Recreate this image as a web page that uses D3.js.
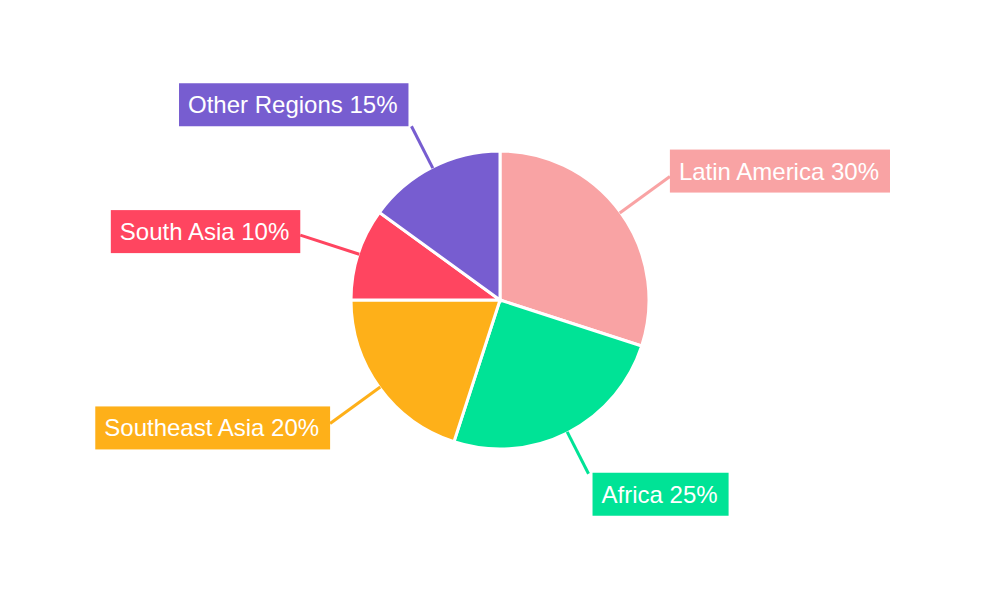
<!DOCTYPE html>
<html>
<head>
<meta charset="utf-8">
<script src="https://cdn.jsdelivr.net/npm/d3@7"></script>
<style>body{margin:0;background:#fff}</style>
</head>
<body>
<div class="canvas"></div>
<script>
var regions = ['Latin America', 'Africa', 'Southeast Asia', 'South Asia', 'Other Regions']
var shares = [30, 25, 20, 10, 15]
var colors = ['#f9a3a4', '#00e396', '#feb019', '#ff4560', '#775dd0']

// label line end radius and box vertical nudge (layout only)
var lineEnd = [210, 195, 210, 210, 195]
var nudge = [-27, -1, -17, -25, -43]

var width = 1000, height = 600
var center = {x: 500, y: 300}
var radius = 149

var svg = d3.select('.canvas').append('svg').attr('width', width).attr('height', height)
var g = svg.append('g').attr('transform', 'translate(' + center.x + ',' + center.y + ')')

var pie = d3.pie().sort(null).value(d => d)
var arcs = pie(shares)
var arc = d3.arc().innerRadius(0).outerRadius(radius)

g.selectAll('path.slice').data(arcs).enter().append('path')
    .attr('d', arc)
    .attr('fill', (d, i) => colors[i])
    .attr('stroke', '#fff')
    .attr('stroke-width', 3)

arcs.forEach(function(d, i) {
    var a = (d.startAngle + d.endAngle) / 2
    var sx = Math.sin(a), sy = -Math.cos(a)
    var x1 = sx * (radius - 1), y1 = sy * (radius - 1)
    var x2 = sx * lineEnd[i], y2 = sy * lineEnd[i]
    g.append('line')
        .attr('x1', x1).attr('y1', y1).attr('x2', x2).attr('y2', y2)
        .attr('stroke', colors[i]).attr('stroke-width', 3)

    var label = g.append('g')
    var t = label.append('text')
        .text(regions[i] + ' ' + shares[i] + '%')
        .attr('font-family', 'Liberation Sans, Arial, sans-serif')
        .attr('font-size', 24)
        .attr('fill', '#fff')
        .attr('dominant-baseline', 'central')
    var w = t.node().getComputedTextLength() + 20, h = 43
    var bx = sx >= 0 ? x2 : x2 - w
    if (i == 1) bx = x2 + 4
    if (i == 4) bx = x2 - 3 - w
    var by = y2 + nudge[i]
    label.insert('rect', 'text')
        .attr('x', bx).attr('y', by).attr('width', w).attr('height', h)
        .attr('fill', colors[i])
    t.attr('x', bx + 9).attr('y', by + h / 2)
})
</script>
</body>
</html>
